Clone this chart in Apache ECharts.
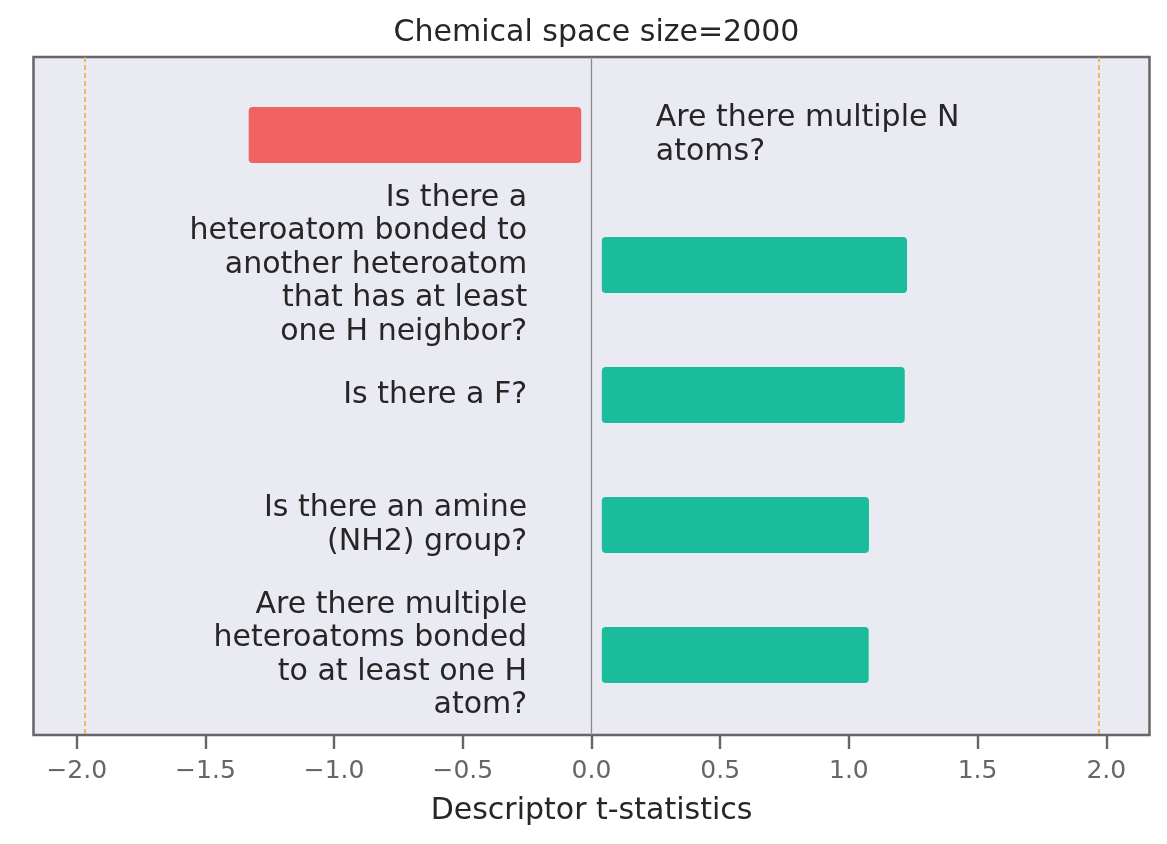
<!DOCTYPE html>
<html>
<head>
<meta charset="utf-8">
<script src="https://cdn.jsdelivr.net/npm/echarts@6/dist/echarts.min.js"></script>
<style>
  html, body { margin: 0; padding: 0; background: #ffffff; }
  #chart { width: 1167px; height: 844px; }
</style>
</head>
<body>
<div id="chart"></div>
<script>
// ---- data ----
const questions = [
  'Are there multiple N\natoms?',
  'Is there a\nheteroatom bonded to\nanother heteroatom\nthat has at least\none H neighbor?',
  'Is there a F?',
  'Is there an amine\n(NH2) group?',
  'Are there multiple\nheteroatoms bonded\nto at least one H\natom?'
];
const tStats = [-1.332, 1.226, 1.217, 1.078, 1.077];
const tickValues = [-2.0, -1.5, -1.0, -0.5, 0.0, 0.5, 1.0, 1.5, 2.0];
const criticalT = [-1.97, 1.97];
const titleText = 'Chemical space size=2000';
const xAxisName = 'Descriptor t-statistics';

// ---- style constants ----
const FONT = 'DejaVu Sans';
const BAR_OFFSET = 0.04;   // gap between zero line and bar start
const BAR_HALF = 0.215;    // half bar thickness (y units)
const LABEL_POS = 0.25;    // label anchor distance from zero
const POS_COLOR = '#1abc9c';
const NEG_COLOR = '#f16363';

const barData = tStats.map((v, i) => [v, i, questions[i]]);

const chart = echarts.init(document.getElementById('chart'), null, { renderer: 'canvas' });

chart.setOption({
  animation: false,
  backgroundColor: '#ffffff',
  title: {
    text: titleText,
    left: 591.5,
    textAlign: 'center',
    top: 13,
    textStyle: { fontFamily: FONT, fontSize: 30, fontWeight: 'normal', color: '#262626' }
  },
  grid: {
    left: 33.5, top: 57, width: 1116, height: 678,
    show: true, backgroundColor: '#eaeaf2', borderColor: '#666666', borderWidth: 2.5
  },
  xAxis: {
    type: 'value',
    min: -2.168, max: 2.168,
    splitLine: { show: false },
    axisLine: { show: false, onZero: false },
    axisTick: {
      show: true, length: 14, inside: false,
      customValues: tickValues,
      lineStyle: { color: '#666666', width: 2.4 }
    },
    axisLabel: {
      customValues: tickValues,
      margin: 24,
      fontFamily: FONT, fontSize: 25, color: '#666666',
      formatter: v => (v < 0 ? '\u2212' : '') + Math.abs(v).toFixed(1)
    },
    name: xAxisName,
    nameLocation: 'middle',
    nameGap: 61,
    nameTextStyle: { fontFamily: FONT, fontSize: 30, color: '#262626' }
  },
  yAxis: {
    type: 'value', inverse: true, min: -0.6, max: 4.615, show: false
  },
  series: [
    {
      type: 'custom',
      data: barData,
      encode: { x: 0, y: 1 },
      renderItem: function (params, api) {
        const v = api.value(0);
        const idx = api.value(1);
        const sign = v < 0 ? -1 : 1;
        const p1 = api.coord([sign * BAR_OFFSET, idx - BAR_HALF]);
        const p2 = api.coord([v, idx + BAR_HALF]);
        const x = Math.min(p1[0], p2[0]);
        const w = Math.abs(p2[0] - p1[0]);
        const y = Math.min(p1[1], p2[1]);
        const h = Math.abs(p2[1] - p1[1]);
        const lp = api.coord([-sign * LABEL_POS, idx]);
        return {
          type: 'group',
          children: [
            {
              type: 'rect',
              shape: { x: x, y: y, width: w, height: h, r: 4 },
              style: { fill: v < 0 ? NEG_COLOR : POS_COLOR }
            },
            {
              type: 'text',
              x: lp[0], y: lp[1],
              style: {
                text: barData[params.dataIndex][2],
                fontFamily: FONT, fontSize: 30, lineHeight: 33.5,
                fill: '#262626',
                align: v < 0 ? 'left' : 'right',
                verticalAlign: 'middle'
              }
            }
          ]
        };
      },
      markLine: {
        silent: true,
        symbol: ['none', 'none'],
        label: { show: false },
        data: [
          { xAxis: 0, lineStyle: { color: '#8c8c8c', width: 1.3, type: 'solid' } },
          ...criticalT.map(c => ({ xAxis: c, lineStyle: { color: '#f5a945', width: 1.6, type: [5, 3] } }))
        ]
      }
    }
  ]
});
</script>
</body>
</html>
